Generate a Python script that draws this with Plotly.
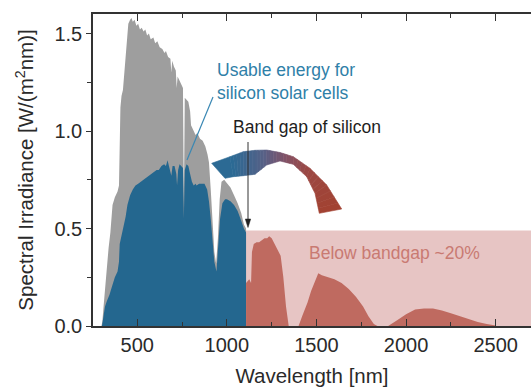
import plotly.graph_objects as go

# ---------------- data ----------------
gray_wl = [300, 305, 312, 320, 330, 340, 350, 356, 362, 375, 390, 398, 402, 406, 412, 420, 428, 435,
           442, 450, 460, 468, 475, 485, 495, 505, 515, 525, 535, 545, 555, 565, 575, 590, 600, 612,
           625, 640, 652, 660, 672, 685, 690, 695, 705, 715, 720, 725, 735, 745, 755, 760, 765, 775,
           785, 795, 800, 815, 825, 835, 850, 865, 880, 892, 900, 910, 920, 930, 940, 950, 960, 970,
           985, 1000, 1020, 1040, 1060, 1080, 1095, 1107]
gray_val = [0.0, 0.02, 0.10, 0.20, 0.30, 0.40, 0.48, 0.55, 0.62, 0.66, 0.69, 0.72, 1.00, 1.12, 1.18,
            1.21, 1.30, 1.38, 1.48, 1.55, 1.57, 1.58, 1.56, 1.57, 1.54, 1.55, 1.52, 1.53, 1.51, 1.52,
            1.49, 1.50, 1.47, 1.48, 1.45, 1.46, 1.43, 1.42, 1.40, 1.41, 1.38, 1.37, 1.30, 1.36, 1.33,
            1.31, 1.22, 1.28, 1.26, 1.24, 1.22, 0.60, 1.17, 1.16, 1.15, 1.10, 1.03, 1.00, 0.98, 0.99,
            0.96, 0.95, 0.92, 0.88, 0.84, 0.70, 0.55, 0.38, 0.32, 0.45, 0.65, 0.74, 0.75, 0.73, 0.71,
            0.67, 0.63, 0.58, 0.52, 0.50]

blue_wl = [303, 310, 320, 331, 345, 358, 375, 390, 398, 402, 412, 425, 435, 445, 460, 475, 490, 505,
           520, 531, 545, 560, 575, 590, 608, 620, 635, 650, 660, 669, 680, 690, 697, 708, 718, 722,
           728, 736, 745, 755, 760, 765, 775, 785, 795, 805, 815, 825, 831, 845, 860, 875, 890, 900,
           910, 920, 930, 942, 952, 962, 975, 990, 1000, 1020, 1040, 1060, 1080, 1095, 1107]
blue_val = [0.0, 0.04, 0.10, 0.13, 0.16, 0.20, 0.25, 0.28, 0.33, 0.42, 0.46, 0.52, 0.56, 0.62, 0.67,
            0.70, 0.72, 0.73, 0.74, 0.75, 0.76, 0.77, 0.78, 0.79, 0.80, 0.80, 0.82, 0.83, 0.82, 0.85,
            0.81, 0.77, 0.82, 0.82, 0.78, 0.72, 0.80, 0.83, 0.82, 0.81, 0.55, 0.80, 0.83, 0.82, 0.78,
            0.74, 0.72, 0.73, 0.72, 0.73, 0.73, 0.73, 0.70, 0.64, 0.55, 0.45, 0.33, 0.28, 0.40, 0.55,
            0.63, 0.65, 0.65, 0.64, 0.62, 0.59, 0.54, 0.50, 0.48]

red_wl = [1107, 1125, 1135, 1140, 1150, 1165, 1180, 1195, 1210, 1225, 1236, 1250, 1262, 1280,
          1300, 1315, 1330, 1345, 1400, 1420, 1450, 1470, 1490, 1510, 1530, 1560, 1600, 1640, 1680,
          1720, 1760, 1790, 1820, 1840, 1900, 1950, 2000, 2050, 2100, 2150, 2200, 2250, 2300, 2350,
          2400, 2450, 2500]
red_val = [0.22, 0.24, 0.22, 0.38, 0.42, 0.43, 0.43, 0.44, 0.45, 0.45, 0.46, 0.45, 0.43, 0.40,
           0.36, 0.25, 0.10, 0.0, 0.0, 0.05, 0.12, 0.18, 0.23, 0.27, 0.26, 0.25, 0.24, 0.22, 0.19,
           0.15, 0.10, 0.05, 0.01, 0.0, 0.0, 0.03, 0.06, 0.085, 0.09, 0.09, 0.08, 0.065, 0.05, 0.035,
           0.02, 0.01, 0.003]

bandgap_nm = 1107
below_band_top = 0.49
x_ticks = [500, 1000, 1500, 2000, 2500]
y_ticks = [0.0, 0.5, 1.0, 1.5]

# ---------------- layout geometry ----------------
W, H = 531, 387
L, R, T, B = 93, 0, 14, 61
X0, X1 = 253, 2697
Y0, Y1 = 0.0, 1.6


def px2x(px):
    return X0 + (px - L) / (W - L - R) * (X1 - X0)


def py2y(py):
    return Y0 + (H - B - py) / (H - B - T) * (Y1 - Y0)


def path_of(poly):
    return "M " + " L ".join("%f,%f" % (px2x(a), py2y(b)) for a, b in poly) + " Z"


fig = go.Figure()

fig.add_trace(go.Scatter(x=gray_wl, y=gray_val, mode="lines", line=dict(width=0, color="#9e9e9e"),
                         fill="tozeroy", fillcolor="#9e9e9e", hoverinfo="skip", showlegend=False))
fig.add_trace(go.Scatter(x=blue_wl, y=blue_val, mode="lines", line=dict(width=0, color="#24678f"),
                         fill="tozeroy", fillcolor="#24678f", hoverinfo="skip", showlegend=False))
fig.add_trace(go.Scatter(x=red_wl, y=red_val, mode="lines", line=dict(width=0, color="#bf6a60"),
                         fill="tozeroy", fillcolor="#bf6a60", hoverinfo="skip", showlegend=False))

shapes = []
# below-bandgap region
shapes.append(dict(type="rect", xref="x", yref="y", x0=bandgap_nm, x1=X1 + 50, y0=0, y1=below_band_top,
                   fillcolor="#e7c5c4", line=dict(width=0), layer="below"))

# curved gradient arrow (decoration, pixel estimates)
outer = [(230, 156.7), (243.3, 151.7), (255, 150.3), (266.7, 150), (280, 152.5), (293.3, 156.7),
         (310, 168.3), (326.7, 185), (341.7, 209)]
inner = [(233.3, 176.7), (243.3, 175.7), (255, 174.3), (266.7, 165), (280, 161), (293.3, 164.3),
         (306.7, 176.7), (315, 193.3), (319.3, 213.3)]
stops = [(0.0, (44, 106, 148)), (0.35, (88, 96, 134)), (0.55, (128, 82, 104)), (0.75, (155, 72, 68)),
         (1.0, (162, 66, 50))]


def col(t):
    for (t0, c0), (t1, c1) in zip(stops[:-1], stops[1:]):
        if t <= t1:
            f = (t - t0) / (t1 - t0)
            return "rgb(%d,%d,%d)" % tuple(round(a + (b - a) * f) for a, b in zip(c0, c1))
    return "rgb(%d,%d,%d)" % stops[-1][1]


SUB = 4
n = len(outer)
pts_o, pts_i = [], []
for k in range(n - 1):
    for s in range(SUB):
        f = s / SUB
        pts_o.append((outer[k][0] + (outer[k + 1][0] - outer[k][0]) * f,
                      outer[k][1] + (outer[k + 1][1] - outer[k][1]) * f))
        pts_i.append((inner[k][0] + (inner[k + 1][0] - inner[k][0]) * f,
                      inner[k][1] + (inner[k + 1][1] - inner[k][1]) * f))
pts_o.append(outer[-1])
pts_i.append(inner[-1])
m = len(pts_o)
for k in range(m - 1):
    poly = [pts_o[k], pts_o[k + 1], pts_i[k + 1], pts_i[k]]
    c = col(k / (m - 2))
    shapes.append(dict(type="path", xref="x", yref="y", path=path_of(poly), fillcolor=c,
                       line=dict(width=0.6, color=c), layer="above"))
head = [outer[0], (211.7, 163.3), (225, 178.3), inner[0]]
shapes.append(dict(type="path", xref="x", yref="y", path=path_of(head), fillcolor=col(0),
                   line=dict(width=0.6, color=col(0)), layer="above"))

# leader line from label to blue area
shapes.append(dict(type="line", xref="x", yref="y", x0=px2x(213), y0=py2y(97), x1=px2x(187), y1=py2y(160),
                   line=dict(color="#3a88b4", width=1.2)))

# band-gap marker: vertical line with small arrowhead
shapes.append(dict(type="line", xref="x", yref="y", x0=px2x(248), y0=py2y(142), x1=px2x(248), y1=py2y(221),
                   line=dict(color="#333333", width=1)))
shapes.append(dict(type="path", xref="x", yref="y", path=path_of([(245.3, 219), (250.7, 219), (248, 227.5)]),
                   fillcolor="#222222", line=dict(width=0.5, color="#222222")))

fig.update_layout(shapes=shapes)

font_fam = "Liberation Sans, Arial, sans-serif"
annotations = [
    dict(x=px2x(215), y=py2y(81), xref="x", yref="y", text="Usable energy for<br>silicon solar cells",
         showarrow=False, xanchor="left", yanchor="middle", align="left",
         font=dict(family=font_fam, size=17.5, color="#2f80a8")),
    dict(x=px2x(307), y=py2y(127), xref="x", yref="y", text="Band gap of silicon", showarrow=False,
         xanchor="center", yanchor="middle",
         font=dict(family=font_fam, size=17.5, color="#1e1e1e")),
    dict(x=px2x(394), y=py2y(253), xref="x", yref="y", text="Below bandgap ~20%", showarrow=False,
         xanchor="center", yanchor="middle",
         font=dict(family=font_fam, size=17.5, color="#c97a72")),
]
fig.update_layout(annotations=annotations)

fig.update_layout(
    width=W, height=H,
    margin=dict(l=L, r=R, t=T, b=B, autoexpand=False),
    paper_bgcolor="white", plot_bgcolor="white",
    font=dict(family=font_fam, color="#333333"),
    xaxis=dict(range=[X0, X1], tickvals=x_ticks, ticktext=[str(v) for v in x_ticks],
               ticks="inside", ticklen=7, tickwidth=1.3, tickcolor="#333333",
               minor=dict(dtick=250, tick0=0, ticks="inside", ticklen=4, tickwidth=1.3, tickcolor="#333333"),
               showline=True, linecolor="#333333", linewidth=1.5, mirror="ticks",
               showgrid=False, zeroline=False, tickfont=dict(size=20, color="#2a2a2a"),
               title=dict(text="Wavelength [nm]", font=dict(size=20.5, color="#2a2a2a"), standoff=14),
               automargin=False),
    yaxis=dict(range=[Y0, Y1], tickvals=y_ticks, ticktext=["%.1f" % v for v in y_ticks],
               ticks="outside", ticklen=5, tickwidth=1.3, tickcolor="#333333",
               minor=dict(dtick=0.25, tick0=0, ticks="outside", ticklen=4, tickwidth=1.3, tickcolor="#333333"),
               showline=True, linecolor="#333333", linewidth=1.5, mirror=False,
               showgrid=False, zeroline=False, tickfont=dict(size=20, color="#2a2a2a"),
               title=dict(text="Spectral Irradiance [W/(m<sup>2</sup>nm)]", font=dict(size=20.5, color="#2a2a2a"),
                          standoff=15),
               automargin=False),
)

fig.write_html("out.html", config={"displayModeBar": False},
               post_script="document.body.style.margin='0px';document.body.style.overflow='hidden';")
